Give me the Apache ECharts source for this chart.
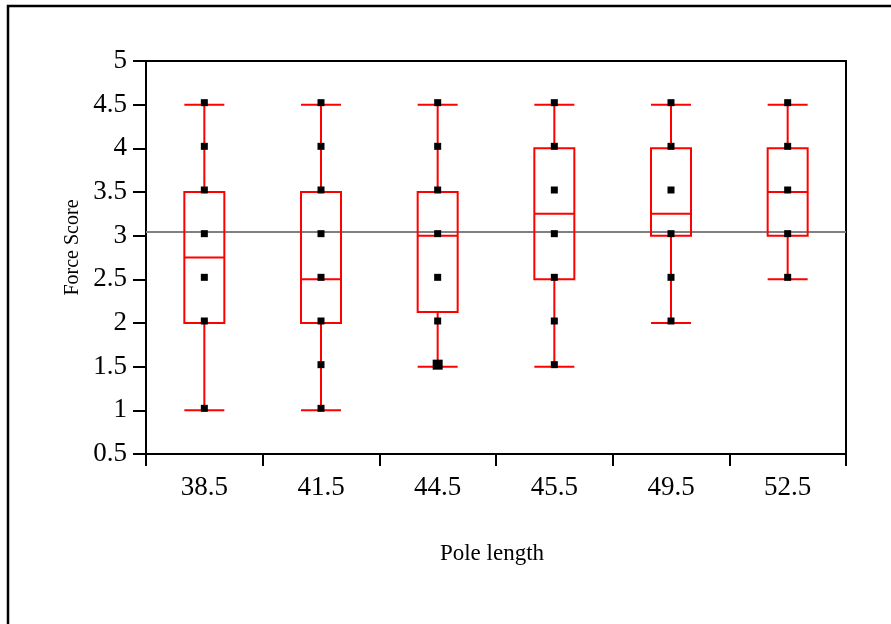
<!DOCTYPE html>
<html>
<head>
<meta charset="utf-8">
<script src="https://cdn.jsdelivr.net/npm/echarts@6/dist/echarts.min.js"></script>
<style>html,body{margin:0;padding:0;background:#fff}#c{width:891px;height:624px}</style>
</head>
<body>
<div id="c"></div>
<script>
var categories = ['38.5', '41.5', '44.5', '45.5', '49.5', '52.5'];
var whiskerLow = [1, 1, 1.5, 1.5, 2, 2.5];
var q1 = [2, 2, 2.125, 2.5, 3, 3];
var median = [2.75, 2.5, 3, 3.25, 3.25, 3.5];
var q3 = [3.5, 3.5, 3.5, 4, 4, 4];
var whiskerHigh = [4.5, 4.5, 4.5, 4.5, 4.5, 4.5];
var pointsByCategory = [
  [4.5, 4, 3.5, 3, 2.5, 2, 1],
  [4.5, 4, 3.5, 3, 2.5, 2, 1.5, 1],
  [4.5, 4, 3.5, 3, 2.5, 2, 1.5, 1.5],
  [4.5, 4, 3.5, 3, 2.5, 2, 1.5],
  [4.5, 4, 3.5, 3, 2.5, 2],
  [4.5, 4, 3.5, 3, 2.5]
];
var grandMean = 3.05;
var yTicks = { min: 0.5, max: 5, step: 0.5 };

var boxData = categories.map(function (c, i) {
  return [whiskerLow[i], q1[i], median[i], q3[i], whiskerHigh[i]];
});
var scatterData = [];
pointsByCategory.forEach(function (vals, i) {
  var counts = {};
  vals.forEach(function (v) { counts[v] = (counts[v] || 0) + 1; });
  Object.keys(counts).forEach(function (k) {
    scatterData.push({ value: [i, parseFloat(k)], count: counts[k] });
  });
});

var serif = 'Liberation Serif';
var chart = echarts.init(document.getElementById('c'), null, { renderer: 'canvas' });
chart.setOption({
  animation: false,
  backgroundColor: '#fff',
  graphic: [{
    type: 'rect', silent: true, z: 100,
    shape: { x: 8, y: 6, width: 2000, height: 2000 },
    style: { fill: 'none', stroke: '#000', lineWidth: 2.5 }
  }],
  grid: { left: 146, top: 61, right: 45, bottom: 170, show: true, borderColor: '#000', borderWidth: 2, backgroundColor: 'transparent' },
  xAxis: {
    type: 'category', data: categories, boundaryGap: true,
    name: 'Pole length', nameLocation: 'middle', nameGap: 88,
    nameTextStyle: { fontFamily: serif, fontSize: 23, color: '#000', padding: [0, 8, 0, 0] },
    axisLine: { lineStyle: { color: '#000', width: 2 } },
    axisTick: { show: true, length: 12, lineStyle: { color: '#000', width: 2 } },
    axisLabel: { fontFamily: serif, fontSize: 27, color: '#000', margin: 20 },
    splitLine: { show: false }
  },
  yAxis: {
    type: 'value', min: yTicks.min, max: yTicks.max, interval: yTicks.step,
    name: 'Force Score', nameLocation: 'middle', nameGap: 51, nameRotate: 90,
    nameTextStyle: { fontFamily: serif, fontSize: 20, color: '#000', padding: [0, 0, 0, 20] },
    axisLine: { show: true, lineStyle: { color: '#000', width: 2 } },
    axisTick: { show: true, length: 13, lineStyle: { color: '#000', width: 2 } },
    axisLabel: { fontFamily: serif, fontSize: 27, color: '#000', margin: 19 },
    splitLine: { show: false }
  },
  series: [
    {
      type: 'scatter', data: [], z: 1, silent: true,
      markLine: {
        silent: true, symbol: 'none', label: { show: false }, z: 1,
        lineStyle: { color: '#808080', width: 2, type: 'solid' },
        data: [{ yAxis: grandMean }]
      }
    },
    {
      type: 'boxplot', data: boxData, boxWidth: [40, 40], z: 3,
      itemStyle: { color: 'rgba(0,0,0,0)', borderColor: '#ff0000', borderWidth: 2 },
      emphasis: { disabled: true }
    },
    {
      type: 'scatter', data: scatterData, z: 4,
      symbol: 'rect',
      symbolSize: function (v, p) { return 7 + 3 * (p.data.count - 1); },
      symbolOffset: [0, -2],
      itemStyle: { color: '#000', opacity: 1 },
      emphasis: { disabled: true }
    }
  ]
});
</script>
</body>
</html>
